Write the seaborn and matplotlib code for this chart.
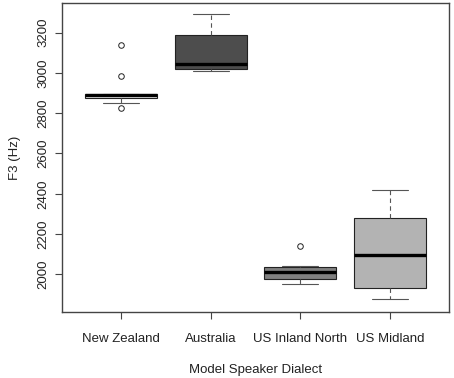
import matplotlib
matplotlib.use('Agg')
import matplotlib.pyplot as plt
import seaborn as sns
import pandas as pd

# F3 values (Hz) per model speaker dialect
dialects = ['New Zealand', 'Australia', 'US Inland North', 'US Midland']
nz = [2826, 2849, 2873, 2880, 2888, 2893, 2897, 2984, 3137]
au = [3011, 3016, 3021, 3030, 3042, 3100, 3187, 3250, 3292]
in_north = [1951, 1965, 1977, 1995, 2011, 2025, 2038, 2043, 2143]
midland = [1880, 1900, 1931, 2010, 2094, 2200, 2278, 2350, 2421]
box_colors = ['#ebebeb', '#4d4d4d', '#808080', '#b3b3b3']
y_ticks = [2000, 2200, 2400, 2600, 2800, 3000, 3200]

df = pd.DataFrame({
    'dialect': [dialects[0]] * len(nz) + [dialects[1]] * len(au)
               + [dialects[2]] * len(in_north) + [dialects[3]] * len(midland),
    'f3': nz + au + in_north + midland,
})

sns.set_style('white')
plt.rcParams['font.family'] = ['Liberation Sans', 'DejaVu Sans']

fig = plt.figure(figsize=(4.54, 3.78), dpi=100)
ax = fig.add_axes([0.1366, 0.1746, 0.8524, 0.8174])

sns.boxplot(data=df, x='dialect', y='f3', hue='dialect', order=dialects,
            palette=box_colors, width=0.8, linecolor='#222222', linewidth=0.8,
            legend=False, ax=ax,
            whiskerprops={'linestyle': (0, (4, 3)), 'color': '#555555'},
            capprops={'color': '#555555'},
            medianprops={'color': 'black', 'linewidth': 2.4},
            flierprops={'marker': 'o', 'markersize': 4, 'markerfacecolor': 'none',
                        'markeredgecolor': '#222222', 'markeredgewidth': 0.7})

# R-style caps: half the box width
for line in ax.lines:
    xd = line.get_xdata()
    yd = line.get_ydata()
    if len(xd) == 2 and yd[0] == yd[1] and 0.05 < abs(xd[1] - xd[0]) < 0.79:
        c = (xd[0] + xd[1]) / 2
        line.set_xdata([c - 0.2, c + 0.2])

ax.set_xlim(-0.66, 3.66)
ax.set_ylim(1813, 3347)
ax.set_yticks(y_ticks)
ax.set_yticklabels([str(t) for t in y_ticks], rotation=90, va='center')

for s in ax.spines.values():
    s.set_color('#444444')
    s.set_linewidth(1.0)

ax.tick_params(axis='both', which='both', direction='out', length=5, width=0.8,
               bottom=True, left=True, color='#444444', labelsize=9.5,
               labelcolor='#222222')
ax.tick_params(axis='x', pad=10)
ax.tick_params(axis='y', pad=4)

ax.set_xlabel('Model Speaker Dialect', fontsize=9.5, color='#222222', labelpad=14)
ax.set_ylabel('F3 (Hz)', fontsize=9.5, color='#222222', labelpad=12)

fig.savefig('out.png', dpi=100)
